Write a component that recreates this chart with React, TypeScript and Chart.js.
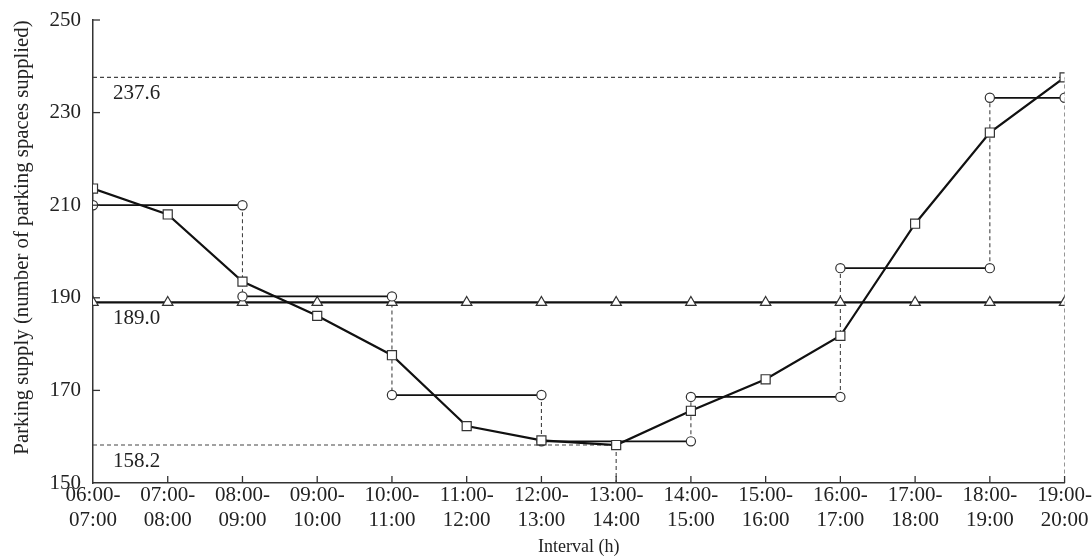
import React, { useEffect, useRef } from "react";
import { Chart, registerables } from "chart.js";

Chart.register(...registerables);

const intervalStarts = ["06:00", "07:00", "08:00", "09:00", "10:00", "11:00", "12:00", "13:00", "14:00", "15:00", "16:00", "17:00", "18:00", "19:00"];
const intervalEnds = ["07:00", "08:00", "09:00", "10:00", "11:00", "12:00", "13:00", "14:00", "15:00", "16:00", "17:00", "18:00", "19:00", "20:00"];

// Square series: hourly parking supply
const hourlySupply = [213.6, 208.0, 193.5, 186.1, 177.6, 162.3, 159.2, 158.2, 165.6, 172.4, 181.8, 206.0, 225.7, 237.6];

// Circle series: two-hour step supply
const stepStartIdx = [0, 2, 4, 6, 8, 10, 12];
const stepEndIdx = [2, 4, 6, 8, 10, 12, 13];
const stepLevels = [210.0, 190.3, 169.0, 159.0, 168.6, 196.4, 233.2];

// Triangle series: constant supply
const constantSupply = 189.0;

const maxSupply = 237.6;
const maxIdx = 13;
const minSupply = 158.2;
const minIdx = 7;

const yMin = 150;
const yMax = 250;
const yStep = 20;

const yTitle = "Parking supply (number of parking spaces supplied)";
const xTitle = "Interval (h)";

const FONT = "'Liberation Serif', 'Times New Roman', serif";
const INK = "#111";
const AXIS = "#333";

export default function App() {
  const ref = useRef<HTMLCanvasElement | null>(null);

  useEffect(() => {
    if (!ref.current) return;

    const squares = hourlySupply.map((y, i) => ({ x: i, y }));
    const circles: { x: number; y: number | null }[] = [];
    stepLevels.forEach((lvl, i) => {
      circles.push({ x: stepStartIdx[i], y: lvl });
      circles.push({ x: stepEndIdx[i], y: lvl });
      circles.push({ x: stepEndIdx[i], y: null });
    });
    const triangles = intervalStarts.map((_, i) => ({ x: i, y: constantSupply }));

    const guides: { x: number; y: number | null }[] = [];
    guides.push({ x: 0, y: maxSupply }, { x: maxIdx, y: maxSupply }, { x: maxIdx, y: null });
    guides.push({ x: maxIdx, y: maxSupply }, { x: maxIdx, y: yMin }, { x: maxIdx, y: null });
    guides.push({ x: 0, y: minSupply }, { x: minIdx, y: minSupply }, { x: minIdx, y: null });
    guides.push({ x: minIdx, y: minSupply }, { x: minIdx, y: yMin }, { x: minIdx, y: null });
    for (let i = 0; i < stepLevels.length - 1; i++) {
      const x = stepEndIdx[i];
      guides.push({ x, y: stepLevels[i] }, { x, y: stepLevels[i + 1] }, { x, y: null });
    }

    const refLabels = [maxSupply, constantSupply, minSupply];

    const overlay = {
      id: "overlay",
      afterDatasetsDraw(chart: any) {
        const ctx = chart.ctx;
        const xs = chart.scales.x;
        const ys = chart.scales.y;
        ctx.save();
        ctx.strokeStyle = AXIS;
        ctx.lineWidth = 1.3;
        // inward tick marks
        for (let i = 1; i < intervalStarts.length; i++) {
          const px = xs.getPixelForValue(i);
          ctx.beginPath();
          ctx.moveTo(px, ys.bottom);
          ctx.lineTo(px, ys.bottom - 7);
          ctx.stroke();
        }
        for (let v = yMin + yStep; v <= yMax; v += yStep) {
          const py = ys.getPixelForValue(v);
          ctx.beginPath();
          ctx.moveTo(xs.left, py);
          ctx.lineTo(xs.left + 7, py);
          ctx.stroke();
        }
        // reference value labels
        ctx.fillStyle = "#222";
        ctx.font = `21px ${FONT}`;
        ctx.textAlign = "left";
        ctx.textBaseline = "middle";
        refLabels.forEach((v) => {
          ctx.fillText(v.toFixed(1), xs.left + 20, ys.getPixelForValue(v) + 16);
        });
        // y axis title
        ctx.save();
        ctx.translate(23, (ys.top + ys.bottom) / 2 - 14);
        ctx.rotate(-Math.PI / 2);
        ctx.textAlign = "center";
        ctx.textBaseline = "middle";
        ctx.font = `20.8px ${FONT}`;
        ctx.fillText(yTitle, 0, 0);
        ctx.restore();
        ctx.restore();
      },
    };

    const chart = new Chart(ref.current, {
      type: "line",
      data: {
        datasets: [
          {
            label: "hourly",
            data: squares,
            borderColor: INK,
            borderWidth: 2.2,
            pointStyle: "rect",
            pointRadius: 6.4,
            pointBorderWidth: 1.2,
            pointBorderColor: AXIS,
            pointBackgroundColor: "#fff",
            tension: 0,
            order: 0,
          },
          {
            label: "step",
            data: circles,
            borderColor: INK,
            borderWidth: 1.8,
            pointStyle: "circle",
            pointRadius: 4.6,
            pointBorderWidth: 1.2,
            pointBorderColor: AXIS,
            pointBackgroundColor: "#fff",
            spanGaps: false,
            order: 1,
          },
          {
            label: "constant",
            data: triangles,
            borderColor: INK,
            borderWidth: 2.2,
            pointStyle: "triangle",
            pointRadius: 6,
            pointBorderWidth: 1.2,
            pointBorderColor: AXIS,
            pointBackgroundColor: "#fff",
            order: 2,
          },
          {
            label: "guides",
            data: guides,
            borderColor: "#444",
            borderWidth: 1.1,
            borderDash: [4, 3],
            pointRadius: 0,
            spanGaps: false,
            order: 3,
          },
        ],
      },
      options: {
        animation: false,
        responsive: false,
        layout: { padding: { top: 20, right: 0, left: 0, bottom: 0 } },
        plugins: { legend: { display: false }, tooltip: { enabled: false } },
        scales: {
          x: {
            type: "linear",
            min: 0,
            max: 13,
            grid: { display: false, drawTicks: false },
            border: { display: true, color: AXIS, width: 1.5 },
            ticks: {
              stepSize: 1,
              autoSkip: false,
              maxRotation: 0,
              padding: 0,
              color: "#222",
              font: { family: FONT, size: 21, lineHeight: 1.2 },
              callback: (v: any) => {
                const i = Math.round(Number(v));
                return [intervalStarts[i] + "-", intervalEnds[i]];
              },
            },
            title: {
              display: true,
              text: xTitle,
              color: "#222",
              font: { family: FONT, size: 18 },
              padding: { top: 2, bottom: 0 },
            },
            afterFit: (s: any) => {
              s.height = 75;
            },
          },
          y: {
            type: "linear",
            min: yMin,
            max: yMax,
            grid: { display: false, drawTicks: false },
            border: { display: true, color: AXIS, width: 1.5 },
            ticks: {
              stepSize: yStep,
              padding: 12,
              color: "#222",
              font: { family: FONT, size: 21 },
            },
            afterFit: (s: any) => {
              s.width = 93;
              s.paddingTop = 0;
              s.paddingBottom = 0;
            },
          },
        },
      },
      plugins: [overlay],
    });

    return () => chart.destroy();
  }, []);

  return (
    <div style={{ position: "absolute", left: 0, top: 0, width: 1092, height: 558, background: "#fff" }}>
      <canvas ref={ref} width={1092} height={558} />
    </div>
  );
}
